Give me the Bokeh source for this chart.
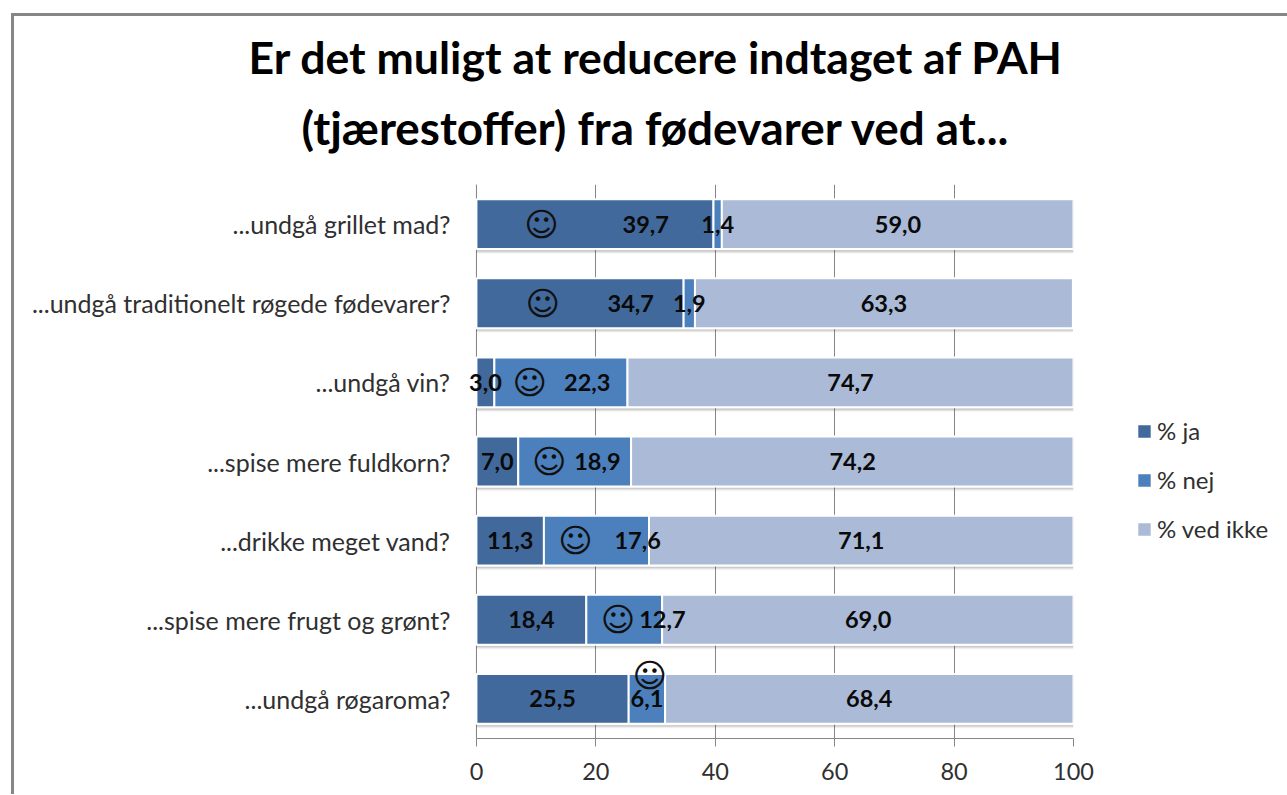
from bokeh.plotting import figure
from bokeh.embed import file_html
from bokeh.resources import INLINE
from bokeh.core.properties import value
from bokeh.models import ColumnDataSource, Legend, LegendItem, FixedTicker, Title, Span
from bokeh.transform import dodge

title_lines = ["Er det muligt at reducere indtaget af PAH", "(tjærestoffer) fra fødevarer ved at..."]
categories = ["...undgå grillet mad?", "...undgå traditionelt røgede fødevarer?", "...undgå vin?",
              "...spise mere fuldkorn?", "...drikke meget vand?", "...spise mere frugt og grønt?", "...undgå røgaroma?"]
ja = [39.7, 34.7, 3.0, 7.0, 11.3, 18.4, 25.5]
nej = [1.4, 1.9, 22.3, 18.9, 17.6, 12.7, 6.1]
ved_ikke = [59.0, 63.3, 74.7, 74.2, 71.1, 69.0, 68.4]
series_names = ["% ja", "% nej", "% ved ikke"]
x_ticks = [0, 20, 40, 60, 80, 100]

# hand-placed annotations of the original, in axis units
ja_label_shift = [8.5, 8.5, 0, 0, 0, 0, 0]
nej_label_shift = [0, 0, 4.4, 3.8, 6.9, 6.4, 0]
smiley_x = [10.9, 11.1, 8.9, 12.2, 16.6, 23.7, 29.0]
smiley_dodge = [0, 0, 0, 0, 0, 0, 0.29]

FONT = "Lato"
COLORS = ["#41699c", "#4c80bc", "#aabad7"]
GREY = "#868686"
MX, MY = 11, 13   # where the chart's border sits on the page

left = [0.0] * 7
mid = list(ja)
right = [a + b for a, b in zip(ja, nej)]
end = [a + b + c for a, b, c in zip(ja, nej, ved_ikke)]

src = ColumnDataSource(dict(
    cat=categories, l0=left, l1=mid, l2=right, l3=end,
    ja_t=[f"{v:.1f}".replace(".", ",") for v in ja],
    nej_t=[f"{v:.1f}".replace(".", ",") for v in nej],
    ved_t=[f"{v:.1f}".replace(".", ",") for v in ved_ikke],
    ja_x=[a / 2 + s for a, s in zip(ja, ja_label_shift)],
    nej_x=[a + b / 2 + s for a, b, s in zip(ja, nej, nej_label_shift)],
    ved_x=[a + b + c / 2 for a, b, c in zip(ja, nej, ved_ikke)],
))

# the frame reaches a little left of zero so that the "3,0" label is not cut
p = figure(frame_width=609, frame_height=554, output_backend="svg", toolbar_location=None,
           y_range=list(reversed(categories)), x_range=(-2, 100),
           margin=(MY, 0, 0, MX),
           styles={"border-top": f"3px solid {GREY}", "border-left": f"3px solid {GREY}", "box-sizing": "border-box"},
           min_border_left=476 - MX - 3 - 12, min_border_right=200, min_border_top=168, min_border_bottom=56,
           outline_line_color=None, background_fill_color="white", border_fill_color="white")

# axes
p.xaxis.ticker = FixedTicker(ticks=x_ticks)
p.xaxis.bounds = (0, 100)
p.xaxis.axis_line_color = GREY
p.xaxis.major_tick_line_color = GREY
p.xaxis.major_tick_out = 8
p.xaxis.major_tick_in = 0
p.xaxis.minor_tick_line_color = None
p.xaxis.major_label_text_font = FONT
p.xaxis.major_label_text_font_size = "23.5px"
p.xaxis.major_label_text_color = "#303030"
p.xaxis.major_label_standoff = 16
p.yaxis.axis_line_color = None
p.yaxis.major_tick_line_color = None
p.yaxis.minor_tick_line_color = None
p.yaxis.major_label_text_font = FONT
p.yaxis.major_label_text_font_size = "25px"
p.yaxis.major_label_text_color = "#303030"
p.yaxis.major_label_standoff = 8
p.xgrid.grid_line_color = GREY
p.xgrid.ticker = FixedTicker(ticks=x_ticks)
p.ygrid.grid_line_color = None
p.add_layout(Span(location=0, dimension="height", line_color=GREY, line_width=1, level="underlay"))

# soft shadow under the bars
for d, a in [(-0.335, 0.20), (-0.345, 0.12), (-0.355, 0.07), (-0.365, 0.03)]:
    p.hbar(y=dodge("cat", d, range=p.y_range), left="l0", right="l3", height=0.02, source=src,
           fill_color="#404040", fill_alpha=a, line_color=None)

# stacked bars
r1 = p.hbar(y="cat", left="l0", right="l1", height=0.63, source=src, fill_color=COLORS[0], line_color="white", line_width=2)
r2 = p.hbar(y="cat", left="l1", right="l2", height=0.63, source=src, fill_color=COLORS[1], line_color="white", line_width=2)
r3 = p.hbar(y="cat", left="l2", right="l3", height=0.63, source=src, fill_color=COLORS[2], line_color="white", line_width=2)

# data labels
for xcol, tcol in [("ja_x", "ja_t"), ("nej_x", "nej_t"), ("ved_x", "ved_t")]:
    p.text(x=xcol, y="cat", text=tcol, source=src, text_font=value(FONT), text_font_style="bold",
           text_font_size="23.5px", text_color="#0a0a0a", text_align="center", text_baseline="middle")

# smileys
for i, c in enumerate(categories):
    s = ColumnDataSource(dict(c=[c], x=[smiley_x[i]], t=["\u263a"]))
    p.text(x="x", y=dodge("c", smiley_dodge[i], range=p.y_range), text="t", source=s,
           text_font=value("DejaVu Sans"), text_font_size="33px", text_color="#101010",
           text_align="center", text_baseline="middle")

# legend
legend = Legend(items=[LegendItem(label=n, renderers=[r]) for n, r in zip(series_names, [r1, r2, r3])],
                location=(62, 195), orientation="vertical", background_fill_alpha=0, border_line_color=None,
                glyph_width=18, glyph_height=18, label_standoff=4, spacing=20, padding=0, margin=0,
                label_text_font=FONT, label_text_font_size="24px", label_text_color="#303030")
p.add_layout(legend, "right")

# title
p.add_layout(Title(text=title_lines[1], align="left", offset=-163, text_font=FONT, text_font_style="bold",
                   text_font_size="45.8px", text_color="#000000", standoff=59), "above")
p.add_layout(Title(text=title_lines[0], align="left", offset=-216, text_font=FONT, text_font_style="bold",
                   text_font_size="44.6px", text_color="#000000", standoff=-29), "above")

open("out.html", "w").write(file_html(p, INLINE))
